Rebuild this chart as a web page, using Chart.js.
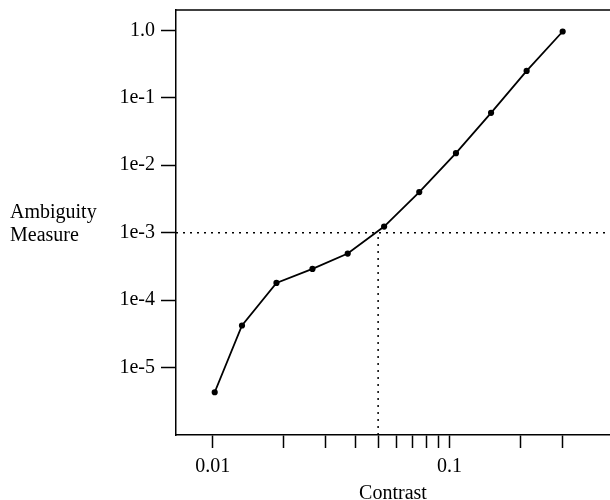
<!DOCTYPE html>
<html>
<head>
<meta charset="utf-8">
<script src="https://cdn.jsdelivr.net/npm/chart.js@4"></script>
<style>
  body { margin: 0; background: #fff; }
  canvas { display: block; }
</style>
</head>
<body>
<canvas id="chart" width="610" height="500"></canvas>
<script>
// values
const contrast = [0.0102, 0.0133, 0.0186, 0.0264, 0.0372, 0.053, 0.0746, 0.1066, 0.150, 0.212, 0.301];
const ambiguity = [4.3e-6, 4.2e-5, 1.8e-4, 2.9e-4, 4.9e-4, 1.23e-3, 4.0e-3, 0.0151, 0.0597, 0.25, 0.96];

const thresholdX = 0.05;
const thresholdY = 1e-3;

const xTicks = [0.01, 0.02, 0.03, 0.04, 0.05, 0.06, 0.07, 0.08, 0.09, 0.1, 0.2, 0.3];
const xLabels = ["0.01", "", "", "", "", "", "", "", "", "0.1", "", ""];
const yTicks = [1e-5, 1e-4, 1e-3, 1e-2, 1e-1, 1];
const yLabels = ["1e-5", "1e-4", "1e-3", "1e-2", "1e-1", "1.0"];

const xMin = 0.007, xMax = 0.477;
const yMin = 1e-6, yMax = 2;

Chart.defaults.font.family = "'Liberation Serif', 'DejaVu Serif', serif";
Chart.defaults.font.size = 20;
Chart.defaults.color = "#000";

function points(xs, ys) {
    let out = [];
    for (let i = 0; i < xs.length; i++) out.push({x: xs[i], y: ys[i]});
    return out;
}

// top frame line and the horizontal y title
const extras = {
    id: "extras",
    afterDraw(chart) {
        const ctx = chart.ctx;
        const a = chart.chartArea;
        ctx.save();
        ctx.strokeStyle = "#000";
        ctx.lineWidth = 1.5;
        ctx.beginPath();
        ctx.moveTo(a.left, a.top);
        ctx.lineTo(a.right, a.top);
        ctx.stroke();
        ctx.fillStyle = "#000";
        ctx.font = "20px 'Liberation Serif', serif";
        ctx.textAlign = "left";
        ctx.textBaseline = "alphabetic";
        ctx.fillText("Ambiguity", 10, 218);
        ctx.fillText("Measure", 10, 241);
        ctx.restore();
    }
};

const ctx = document.getElementById("chart").getContext("2d");
const chart = new Chart(ctx, {
    type: "line",
    data: {
        datasets: [
            {
                data: points(contrast, ambiguity),
                borderColor: "#000",
                backgroundColor: "#000",
                borderWidth: 1.8,
                pointRadius: 2.2,
                pointHoverRadius: 2.2,
                tension: 0
            },
            {
                // horizontal dotted threshold
                data: points([xMin, xMax], [thresholdY, thresholdY]),
                borderColor: "#000",
                borderWidth: 1.5,
                borderDash: [2, 5],
                pointRadius: 0
            },
            {
                // vertical dotted threshold
                data: points([thresholdX, thresholdX], [yMin, thresholdY]),
                borderColor: "#000",
                borderWidth: 1.5,
                borderDash: [2, 5],
                pointRadius: 0
            }
        ]
    },
    options: {
        responsive: false,
        animation: false,
        layout: {
            autoPadding: false,
            padding: { top: 10, right: 0, bottom: 0, left: 0 }
        },
        plugins: {
            legend: { display: false },
            tooltip: { enabled: false }
        },
        scales: {
            x: {
                type: "logarithmic",
                min: xMin,
                max: xMax,
                afterBuildTicks: (scale) => {
                    scale.ticks = xTicks.map(v => ({value: v}));
                },
                afterFit: (scale) => {
                    scale.height = 65;
                    scale.paddingLeft = 0;
                    scale.paddingRight = 0;
                },
                ticks: {
                    autoSkip: false,
                    maxRotation: 0,
                    padding: 7,
                    callback: (value) => {
                        const i = xTicks.indexOf(value);
                        return i >= 0 ? xLabels[i] : "";
                    }
                },
                grid: {
                    drawOnChartArea: false,
                    drawTicks: true,
                    tickLength: 13,
                    tickColor: "#000",
                    tickWidth: 1.5
                },
                border: { display: true, color: "#000", width: 1.5 },
                title: {
                    display: true,
                    text: "Contrast",
                    font: { size: 20, lineHeight: 0.6 },
                    padding: 0
                }
            },
            y: {
                type: "logarithmic",
                min: yMin,
                max: yMax,
                afterBuildTicks: (scale) => {
                    scale.ticks = yTicks.map(v => ({value: v}));
                },
                afterFit: (scale) => {
                    scale.width = 176;
                    scale.paddingTop = 0;
                    scale.paddingBottom = 0;
                },
                ticks: {
                    autoSkip: false,
                    padding: 6,
                    callback: (value) => {
                        const i = yTicks.indexOf(value);
                        return i >= 0 ? yLabels[i] : "";
                    }
                },
                grid: {
                    drawOnChartArea: false,
                    drawTicks: true,
                    tickLength: 15,
                    tickColor: "#000",
                    tickWidth: 1.5
                },
                border: { display: true, color: "#000", width: 1.5 }
            }
        }
    },
    plugins: [extras]
});
</script>
</body>
</html>
